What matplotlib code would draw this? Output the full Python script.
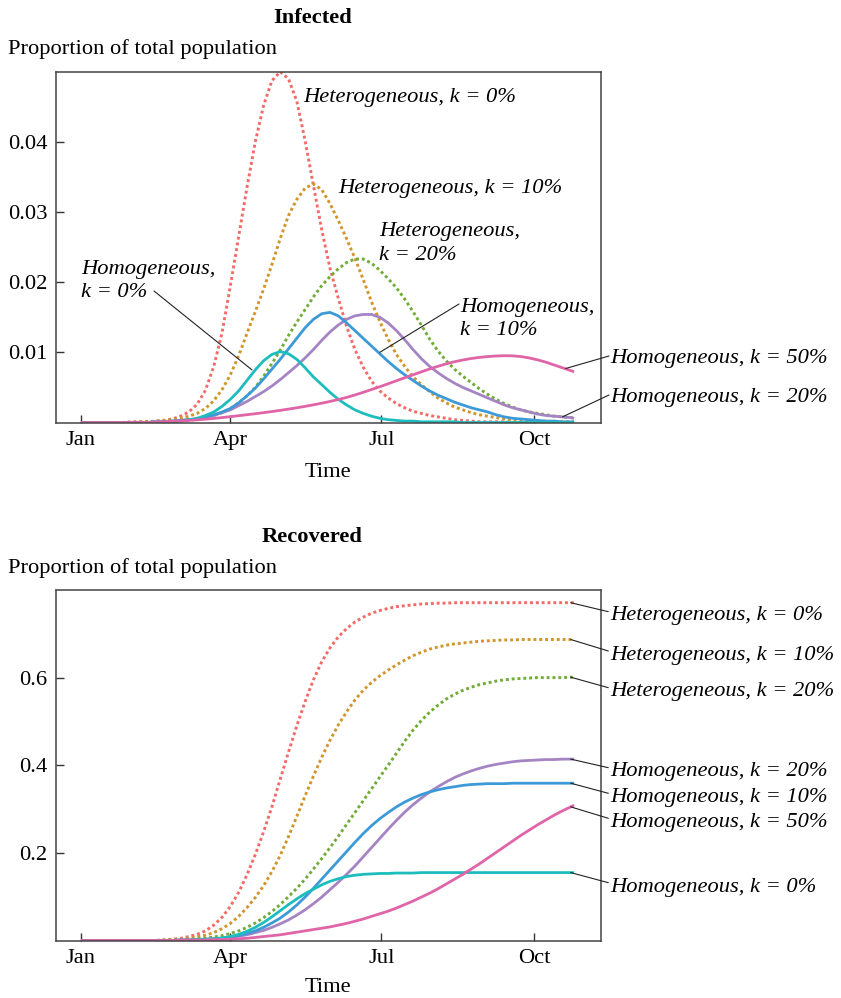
import matplotlib
matplotlib.use("Agg")
import matplotlib.pyplot as plt

plt.rcParams['font.family'] = ['Liberation Serif', 'DejaVu Serif']
plt.rcParams['font.size'] = 16.2

W, H = 841, 998

# day of year, sampled every 5 days (Jan 1 = 0), last point Oct 25
days = list(range(0, 300, 5))[:60] + [297]

tick_days = [0, 90, 181, 273]
tick_labels = ['Jan', 'Apr', 'Jul', 'Oct']

# ---- Infected (proportion of total population) ----
het0_inf = [0, 0, 0, 0, 0, 0, 0.0001, 0.0001, 0.0001,
            0.0002, 0.0003, 0.0005, 0.0009, 0.0015, 0.0026, 0.0046, 0.0080, 0.0128, 0.0195, 0.0265,
            0.0335, 0.0400, 0.0452, 0.0487, 0.0500, 0.0490, 0.0458, 0.0402, 0.0338, 0.0275,
            0.0220, 0.0177, 0.0137, 0.0104, 0.0079, 0.0059, 0.0045, 0.0035, 0.0027, 0.0021,
            0.0016, 0.0013, 0.0010, 0.0008, 0.0006, 0.0004, 0.0003, 0.0002, 0.0001, 0.0001,
            0.0001, 0.0001, 0, 0, 0, 0, 0, 0, 0, 0,
            0]
het10_inf = [0, 0, 0, 0, 0, 0, 0, 0.0001, 0.0001,
             0.0002, 0.0003, 0.0004, 0.0006, 0.0009, 0.0013, 0.0020, 0.0031, 0.0047, 0.0068, 0.0095,
             0.0127, 0.0158, 0.0190, 0.0225, 0.0262, 0.0295, 0.0318, 0.0334, 0.0340, 0.0332,
             0.0312, 0.0288, 0.0262, 0.0234, 0.0204, 0.0172, 0.0144, 0.0119, 0.0097, 0.0080,
             0.0065, 0.0054, 0.0044, 0.0035, 0.0028, 0.0022, 0.0018, 0.0014, 0.0011, 0.0009,
             0.0007, 0.0005, 0.0004, 0.0003, 0.0002, 0.0002, 0.0002, 0.0001, 0.0001, 0.0001,
             0.0001]
het20_inf = [0, 0, 0, 0, 0, 0, 0, 0, 0.0001,
             0.0001, 0.0001, 0.0002, 0.0002, 0.0003, 0.0005, 0.0007, 0.0010, 0.0014, 0.0020, 0.0028,
             0.0038, 0.0050, 0.0066, 0.0084, 0.0103, 0.0124, 0.0143, 0.0161, 0.0179, 0.0195,
             0.0208, 0.0219, 0.0228, 0.0233, 0.0233, 0.0227, 0.0217, 0.0205, 0.0192, 0.0176,
             0.0158, 0.0139, 0.0119, 0.0102, 0.0088, 0.0076, 0.0066, 0.0057, 0.0048, 0.0040,
             0.0033, 0.0027, 0.0022, 0.0018, 0.0015, 0.0013, 0.0011, 0.0009, 0.0008, 0.0007,
             0.0006]
hom0_inf = [0, 0, 0, 0, 0, 0, 0, 0, 0,
            0.0001, 0.0001, 0.0001, 0.0002, 0.0004, 0.0006, 0.0010, 0.0015, 0.0023, 0.0033, 0.0045,
            0.0060, 0.0075, 0.0088, 0.0097, 0.0101, 0.0098, 0.0090, 0.0078, 0.0065, 0.0054,
            0.0043, 0.0033, 0.0025, 0.0018, 0.0013, 0.0009, 0.0006, 0.0004, 0.0003, 0.0002,
            0.0002, 0.0001, 0.0001, 0.0001, 0.0001, 0.0001, 0, 0, 0, 0,
            0, 0, 0, 0, 0, 0, 0, 0, 0, 0,
            0]
hom10_inf = [0, 0, 0, 0, 0, 0, 0, 0, 0,
             0.0001, 0.0001, 0.0002, 0.0003, 0.0004, 0.0005, 0.0008, 0.0011, 0.0015, 0.0020, 0.0028,
             0.0038, 0.0049, 0.0062, 0.0076, 0.0090, 0.0105, 0.0120, 0.0135, 0.0147, 0.0155,
             0.0157, 0.0152, 0.0142, 0.0131, 0.0120, 0.0109, 0.0098, 0.0087, 0.0077, 0.0068,
             0.0060, 0.0052, 0.0045, 0.0039, 0.0034, 0.0029, 0.0025, 0.0021, 0.0018, 0.0015,
             0.0011, 0.0008, 0.0006, 0.0005, 0.0004, 0.0003, 0.0002, 0.0002, 0.0001, 0.0001,
             0.0001]
hom20_inf = [0, 0, 0, 0, 0, 0, 0, 0, 0,
             0.0001, 0.0001, 0.0002, 0.0003, 0.0004, 0.0005, 0.0008, 0.0010, 0.0014, 0.0018, 0.0024,
             0.0030, 0.0037, 0.0044, 0.0052, 0.0061, 0.0071, 0.0081, 0.0092, 0.0104, 0.0117,
             0.0129, 0.0139, 0.0147, 0.0152, 0.0154, 0.0154, 0.0150, 0.0142, 0.0131, 0.0118,
             0.0104, 0.0091, 0.0080, 0.0071, 0.0063, 0.0056, 0.0050, 0.0045, 0.0040, 0.0035,
             0.0030, 0.0025, 0.0021, 0.0018, 0.0015, 0.0012, 0.0010, 0.0009, 0.0008, 0.0007,
             0.0006]
hom50_inf = [0, 0, 0, 0, 0, 0, 0, 0, 0,
             0.00008, 0.00012, 0.00017, 0.00023, 0.00030, 0.00038, 0.00047, 0.00058, 0.00070,
             0.00083, 0.00097,
             0.00111, 0.00125, 0.00140, 0.00156, 0.00173, 0.00191, 0.00210, 0.00230, 0.00252,
             0.00275,
             0.00300, 0.00328, 0.00358, 0.00392, 0.00430, 0.00470, 0.00510, 0.00552, 0.00595,
             0.00638,
             0.00680, 0.00722, 0.00763, 0.00801, 0.00836, 0.00866, 0.00891, 0.00912, 0.00928,
             0.00940,
             0.00948, 0.00952, 0.00950, 0.00940, 0.00920, 0.00893, 0.00860, 0.00820, 0.00780,
             0.00740,
             0.00722]

# ---- Recovered ----
het0_rec = [0, 0, 0, 0, 0, 0, 0, 0, 0,
            0.000, 0.001, 0.003, 0.005, 0.009, 0.014, 0.022, 0.035, 0.053, 0.078, 0.110,
            0.150, 0.196, 0.248, 0.305, 0.368, 0.430, 0.490, 0.545, 0.595, 0.636,
            0.668, 0.693, 0.712, 0.727, 0.738, 0.747, 0.753, 0.758, 0.762, 0.764,
            0.766, 0.768, 0.769, 0.770, 0.770, 0.771, 0.771, 0.771, 0.771, 0.771,
            0.771, 0.771, 0.771, 0.771, 0.771, 0.771, 0.771, 0.771, 0.771, 0.771,
            0.771]
het10_rec = [0, 0, 0, 0, 0, 0, 0, 0, 0,
             0.000, 0.001, 0.002, 0.003, 0.005, 0.008, 0.012, 0.018, 0.027, 0.039, 0.055,
             0.075, 0.098, 0.125, 0.157, 0.194, 0.237, 0.283, 0.330, 0.375, 0.418,
             0.457, 0.492, 0.522, 0.549, 0.571, 0.589, 0.604, 0.617, 0.629, 0.640,
             0.650, 0.658, 0.665, 0.670, 0.674, 0.677, 0.679, 0.681, 0.683, 0.684,
             0.685, 0.686, 0.686, 0.687, 0.687, 0.687, 0.687, 0.687, 0.687, 0.687,
             0.687]
het20_rec = [0, 0, 0, 0, 0, 0, 0, 0, 0,
             0.000, 0.001, 0.001, 0.002, 0.003, 0.004, 0.005, 0.008, 0.011, 0.016, 0.022,
             0.030, 0.040, 0.052, 0.066, 0.082, 0.100, 0.119, 0.140, 0.163, 0.187,
             0.212, 0.238, 0.265, 0.292, 0.319, 0.346, 0.373, 0.400, 0.427, 0.455,
             0.480, 0.502, 0.521, 0.537, 0.551, 0.562, 0.571, 0.578, 0.584, 0.588,
             0.592, 0.595, 0.597, 0.598, 0.599, 0.600, 0.600, 0.600, 0.600, 0.601,
             0.601]
hom0_rec = [0, 0, 0, 0, 0, 0, 0, 0, 0,
            0.000, 0.000, 0.000, 0.001, 0.001, 0.002, 0.003, 0.004, 0.006, 0.009, 0.014,
            0.021, 0.030, 0.041, 0.054, 0.068, 0.082, 0.095, 0.107, 0.117, 0.127,
            0.135, 0.141, 0.146, 0.149, 0.151, 0.152, 0.153, 0.153, 0.154, 0.154,
            0.154, 0.155, 0.155, 0.155, 0.155, 0.155, 0.155, 0.155, 0.155, 0.155,
            0.155, 0.155, 0.155, 0.155, 0.155, 0.155, 0.155, 0.155, 0.155, 0.155,
            0.155]
hom10_rec = [0, 0, 0, 0, 0, 0, 0, 0, 0,
             0.000, 0.000, 0.000, 0.001, 0.001, 0.001, 0.002, 0.003, 0.005, 0.008, 0.011,
             0.016, 0.022, 0.030, 0.040, 0.051, 0.065, 0.081, 0.099, 0.119, 0.140,
             0.161, 0.182, 0.203, 0.224, 0.244, 0.262, 0.278, 0.292, 0.305, 0.316,
             0.325, 0.333, 0.339, 0.344, 0.348, 0.351, 0.354, 0.356, 0.357, 0.358,
             0.358, 0.358, 0.359, 0.359, 0.359, 0.359, 0.359, 0.359, 0.359, 0.359,
             0.359]
hom20_rec = [0, 0, 0, 0, 0, 0, 0, 0, 0,
             0.000, 0.000, 0.000, 0.001, 0.001, 0.002, 0.003, 0.004, 0.005, 0.007, 0.010,
             0.013, 0.018, 0.023, 0.030, 0.038, 0.047, 0.058, 0.070, 0.084, 0.099,
             0.116, 0.133, 0.151, 0.170, 0.191, 0.212, 0.233, 0.254, 0.274, 0.293,
             0.310, 0.325, 0.339, 0.351, 0.362, 0.372, 0.380, 0.387, 0.393, 0.398,
             0.402, 0.405, 0.408, 0.410, 0.411, 0.412, 0.413, 0.413, 0.414, 0.414,
             0.414]
hom50_rec = [0, 0, 0, 0, 0, 0, 0, 0, 0,
             0.000, 0.000, 0.000, 0.001, 0.001, 0.001, 0.001, 0.002, 0.002, 0.003, 0.004,
             0.005, 0.007, 0.009, 0.011, 0.013, 0.016, 0.019, 0.022, 0.025, 0.028,
             0.031, 0.035, 0.039, 0.044, 0.049, 0.055, 0.061, 0.067, 0.074, 0.082,
             0.090, 0.099, 0.108, 0.118, 0.129, 0.140, 0.151, 0.163, 0.175, 0.188,
             0.201, 0.214, 0.227, 0.240, 0.252, 0.264, 0.275, 0.286, 0.296, 0.305,
             0.309]

colors = {
    'het0': '#F26B68', 'het10': '#D1952A', 'het20': '#72AC38',
    'hom0': '#1DBDBE', 'hom10': '#3D9AD8', 'hom20': '#A584C4', 'hom50': '#E064A8',
}
dotted = (0, (1, 1))

fig = plt.figure(figsize=(W / 100, H / 100), dpi=100)
ax1 = fig.add_axes([55.7 / W, 1 - 422.5 / H, 545.6 / W, 350.8 / H])
ax2 = fig.add_axes([55.7 / W, 1 - 940.5 / H, 545.6 / W, 350.5 / H])


def draw(ax, series):
    for key, vals in series:
        if key.startswith('het'):
            ax.plot(days, vals, color=colors[key], lw=2.1, linestyle=dotted)
        else:
            ax.plot(days, vals, color=colors[key], lw=2.0, solid_capstyle='butt')


draw(ax1, [('het0', het0_inf), ('het10', het10_inf), ('het20', het20_inf),
           ('hom20', hom20_inf), ('hom10', hom10_inf), ('hom0', hom0_inf), ('hom50', hom50_inf)])
draw(ax2, [('het0', het0_rec), ('het10', het10_rec), ('het20', het20_rec),
           ('hom20', hom20_rec), ('hom10', hom10_rec), ('hom0', hom0_rec), ('hom50', hom50_rec)])

for ax in (ax1, ax2):
    ax.set_xlim(-15.2, 313.4)
    ax.set_xticks(tick_days)
    ax.set_xticklabels(tick_labels)
    ax.tick_params(direction='in', length=5.5, width=1.0, color='#333333', pad=6)
    for sp in ax.spines.values():
        sp.set_color('#444444')
        sp.set_linewidth(1.1)

ax1.set_ylim(0, 0.05)
ax1.set_yticks([0.01, 0.02, 0.03, 0.04])
ax1.set_yticklabels(['0.01', '0.02', '0.03', '0.04'])
ax2.set_ylim(0, 0.8)
ax2.set_yticks([0.2, 0.4, 0.6])
ax2.set_yticklabels(['0.2', '0.4', '0.6'])


def ftext(x, y, s, **kw):
    fig.text(x / W, 1 - y / H, s, va='baseline', **kw)


def leader(ax, xy, px, py):
    ax.annotate('', xy=xy, xycoords='data', xytext=(px, H - py), textcoords='figure pixels',
                annotation_clip=False,
                arrowprops=dict(arrowstyle='-', color='#222222', lw=0.8, shrinkA=0, shrinkB=0))


# titles and axis labels
ftext(312.5, 22.7, 'Infected', ha='center', fontweight='bold')
ftext(7.5, 54.3, 'Proportion of total population')
ftext(328, 477, 'Time', ha='center')
ftext(312.5, 541.7, 'Recovered', ha='center', fontweight='bold')
ftext(7.5, 573.3, 'Proportion of total population')
ftext(328, 992.5, 'Time', ha='center')

# infected panel labels
it = dict(fontstyle='italic')
ftext(303, 101.7, 'Heterogeneous, k = 0%', **it)
ftext(338.3, 193.3, 'Heterogeneous, k = 10%', **it)
ftext(379.3, 235.7, 'Heterogeneous,', **it)
ftext(379.3, 260, 'k = 20%', **it)
ftext(81, 274, 'Homogeneous,', **it)
ftext(81, 296.7, 'k = 0%', **it)
ftext(460, 311.7, 'Homogeneous,', **it)
ftext(460, 335, 'k = 10%', **it)
ftext(610.7, 362.7, 'Homogeneous, k = 50%', **it)
ftext(610.7, 401.7, 'Homogeneous, k = 20%', **it)

leader(ax1, (103, 0.0075), 154, 291)
leader(ax1, (180, 0.0100), 459, 304)
leader(ax1, (292, 0.0077), 609, 356)
leader(ax1, (290, 0.0008), 609, 395)

# recovered panel labels
rec_labels = [
    ('Heterogeneous, k = 0%', het0_rec, 620, 611.7),
    ('Heterogeneous, k = 10%', het10_rec, 660, 651),
    ('Heterogeneous, k = 20%', het20_rec, 696, 687.7),
    ('Homogeneous, k = 20%', hom20_rec, 776, 767.7),
    ('Homogeneous, k = 10%', hom10_rec, 802, 793.3),
    ('Homogeneous, k = 50%', hom50_rec, 826.7, 818.3),
    ('Homogeneous, k = 0%', hom0_rec, 891.7, 882.7),
]
for txt, vals, ty, ly in rec_labels:
    ftext(610.7, ty, txt, **it)
    leader(ax2, (days[-2], vals[-2]), 608.3, ly)

fig.savefig('out.png', dpi=100)
